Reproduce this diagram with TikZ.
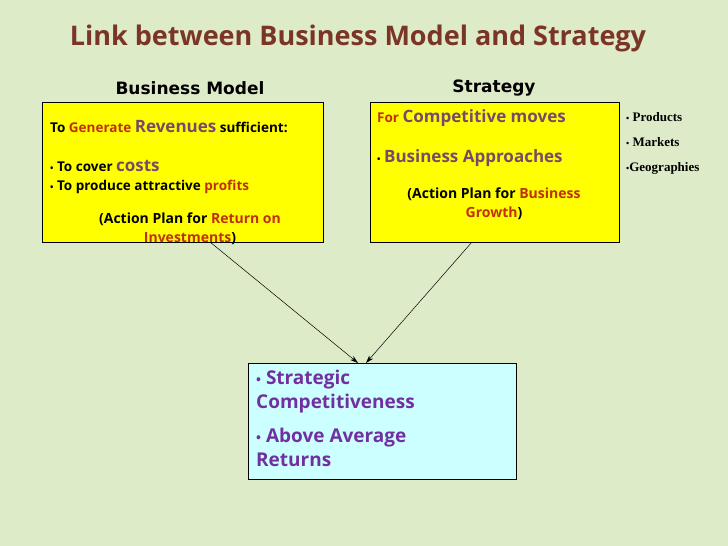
\documentclass[tikz,border=0pt]{standalone}
\usepackage{fontspec}
\setmainfont{Open Sans}
\newfontfamily\hd{DejaVu Sans}
\newfontfamily\tm{Liberation Serif}
\usetikzlibrary{arrows.meta}
\definecolor{bg}{HTML}{DDEBC9}
\definecolor{ttl}{HTML}{7B3526}
\definecolor{rd}{HTML}{C0300A}
\definecolor{pu}{HTML}{7A4868}
\definecolor{vi}{HTML}{7030A0}
\definecolor{yl}{HTML}{FFFF00}
\definecolor{cy}{HTML}{CCFFFF}
\tikzset{box/.style={draw=black,line width=0.6pt},
 t/.style={anchor=west,inner sep=0,font=\bfseries\fontsize{13.5}{16}\selectfont},
 c/.style={anchor=center,inner sep=0,align=center,font=\bfseries\fontsize{14}{19}\selectfont},
 arr/.style={-{Stealth[length=8pt,width=5pt]},line width=0.5pt}}
\newcommand\smbul{{\fontsize{9}{10}\selectfont\textbullet}}
\begin{document}
\begin{tikzpicture}[x=1pt,y=-1pt]
\fill[bg] (0,0) rectangle (728,546);
\useasboundingbox (0,0) rectangle (728,546);
\node[inner sep=0,text=ttl,font=\bfseries\fontsize{27}{30}\selectfont] (title) at (358,38) {Link between Business Model and Strategy};
\node[inner sep=0,font=\hd\bfseries\fontsize{17}{18}\selectfont] (hbm) at (190,88) {Business Model};
\node[inner sep=0,font=\hd\bfseries\fontsize{17}{18}\selectfont] (hst) at (494,88) {Strategy};
\draw[box,fill=yl] (42,102) rectangle (323,242);
\draw[box,fill=yl] (370,102) rectangle (619,242);
\draw[box,fill=cy] (248,363) rectangle (516,479);
\coordinate (bmb) at (210,242); \coordinate (stb) at (472,242);
\coordinate (e1) at (358,363); \coordinate (e2) at (366,363);
\node[t] (a1) at (50,127) {To \textcolor{rd}{Generate} \textcolor{pu}{\fontsize{17}{18}\selectfont Revenues} sufficient:};
\node[t] (a2) at (50,166) {\smbul{} To cover \textcolor{pu}{\fontsize{17}{18}\selectfont costs}};
\node[t] (a3) at (50,187) {\smbul{} To produce attractive \textcolor{rd}{profits}};
\node[c] (a4) at (190,229) {(Action Plan for \textcolor{rd}{Return on}\\\textcolor{rd}{Investments})};
\node[t] (b1) at (377,118) {\textcolor{rd}{For} \textcolor{pu}{\fontsize{17}{18}\selectfont Competitive moves}};
\node[t] (b2) at (377,158) {\smbul{} \textcolor{pu}{\fontsize{17}{18}\selectfont Business Approaches}};
\node[c] (b3) at (494,204) {(Action Plan for \textcolor{rd}{Business}\\\textcolor{rd}{Growth})};
\node[t,font=\tm\bfseries\fontsize{13}{14}\selectfont] (r1) at (626,117) {\smbul{} Products};
\node[t,font=\tm\bfseries\fontsize{13}{14}\selectfont] (r2) at (626,142) {\smbul{} Markets};
\node[t,font=\tm\bfseries\fontsize{13}{14}\selectfont] (r3) at (626,168) {\smbul Geographies};
\node[anchor=north west,inner sep=0,align=left,text=vi,font=\bfseries\fontsize{19}{24}\selectfont] (c1) at (256,370) {{\fontsize{13}{14}\selectfont\textbullet} Strategic\\Competitiveness};
\node[anchor=north west,inner sep=0,align=left,text=vi,font=\bfseries\fontsize{19}{24}\selectfont] (c2) at (256,428) {{\fontsize{13}{14}\selectfont\textbullet} Above Average\\Returns};
\draw[arr] (bmb) -- (e1);
\draw[arr] (stb) -- (e2);
\end{tikzpicture}
\end{document}
